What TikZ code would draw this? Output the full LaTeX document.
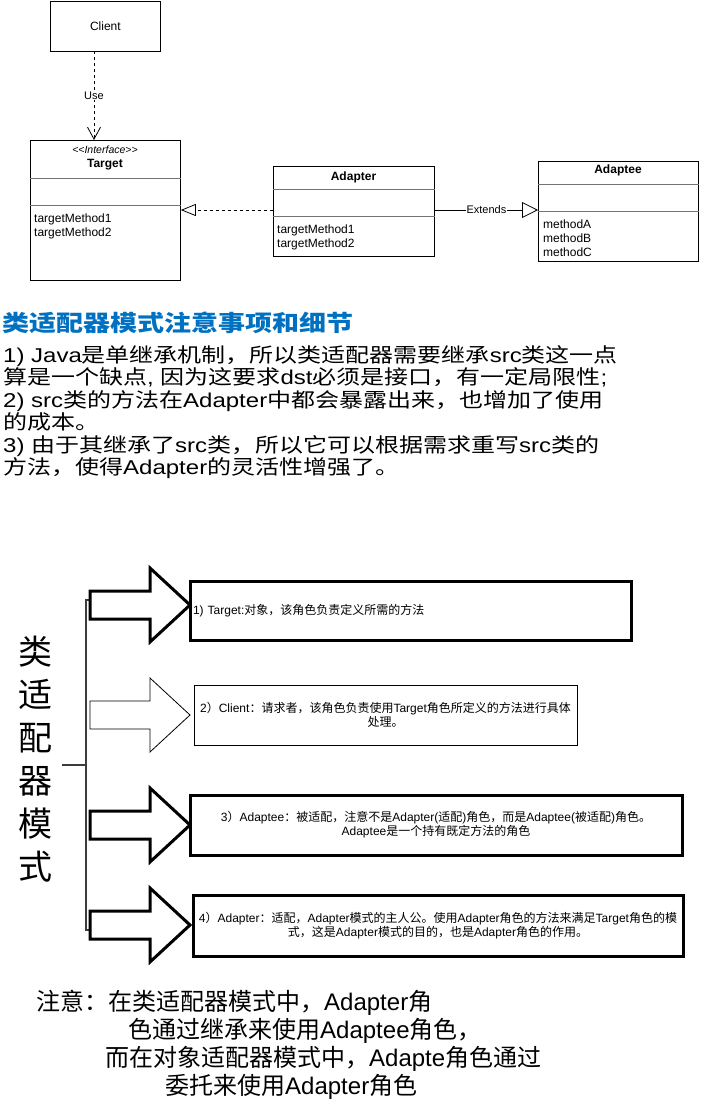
\documentclass[tikz,border=0pt]{standalone}
\usepackage{fontspec}
\setmainfont{Liberation Sans}
\newfontfamily\cjkfont{Noto Sans CJK SC}
\newfontfamily\cjkwide[FakeStretch=1.2]{Noto Sans CJK SC}
\newfontfamily\latinwide[FakeStretch=1.2]{Liberation Sans}
\usetikzlibrary{arrows.meta,positioning}

% han characters switch to the CJK family on their own
\XeTeXinterchartokenstate=1
\newXeTeXintercharclass\hanclass
\newcount\hancode
\newcommand\hanrange[2]{\hancode=#1\relax
  \loop\XeTeXcharclass\hancode=\hanclass\relax
  \ifnum\hancode<#2\relax\advance\hancode by 1\relax\repeat}
\hanrange{"3000}{"303F}
\hanrange{"4E00}{"9FFF}
\hanrange{"FF00}{"FFEF}
\newcommand\hanfont{\cjkfont}
\XeTeXinterchartoks 0 \hanclass = {\begingroup\hanfont}
\XeTeXinterchartoks 4095 \hanclass = {\begingroup\hanfont}
\XeTeXinterchartoks \hanclass 0 = {\endgroup}
\XeTeXinterchartoks \hanclass 4095 = {\endgroup}
\newcommand\widetext{\latinwide\def\hanfont{\cjkwide}}

\definecolor{headblue}{RGB}{0,112,192}
\definecolor{bracegray}{RGB}{60,60,60}

\tikzset{
  classbox/.style={draw, fill=white, line width=0.8pt, inner sep=0pt, anchor=north west},
  divider/.style={draw=black!55, line width=0.7pt},
  members/.style={anchor=north west, align=left, inner sep=0pt, font=\fontsize{12}{14}\selectfont},
  linklabel/.style={fill=white, inner sep=1pt, font=\fontsize{11}{13}\selectfont},
  usedep/.style={line width=0.8pt, dash pattern=on 3pt off 3pt, -{Straight Barb[length=12pt,width=13pt]}},
  realize/.style={line width=0.8pt, dash pattern=on 3pt off 3pt, -{Triangle[open,length=15pt,width=12pt]}},
  inherit/.style={line width=0.8pt, -{Triangle[open,length=16pt,width=16pt]}},
  rolebox/.style={draw, fill=white, inner sep=3pt, align=center, font=\fontsize{12}{14}\selectfont},
  fatarrow/.pic={\path[pic actions] (0,-14) -- (60,-14) -- (60,-37) -- (100,0) -- (60,37) -- (60,14) -- (0,14) -- cycle;},
  note/.style={anchor=west, inner sep=0pt, font=\fontsize{24}{28}\selectfont}
}

\begin{document}
\begin{tikzpicture}[x=1pt, y=-1pt]
  \useasboundingbox (0,0) rectangle (701,1111);

  % class diagram
  \node[classbox, minimum width=110pt, minimum height=50pt, font=\fontsize{12}{14}\selectfont] (client) at (50,0.5) {Client};

  \node[classbox, minimum width=150pt, minimum height=140pt] (target) at (30,140) {};
  \node[inner sep=0pt, font=\fontsize{10.5}{12}\selectfont\itshape] (tgtstereo) at (105,150) {<\kern0pt<Interface>\kern0pt>};
  \node[inner sep=0pt, font=\fontsize{12}{14}\selectfont\bfseries] (tgtname) at (105,165) {Target};
  \draw[divider] ([yshift=-38pt]target.north west) -- ([yshift=-38pt]target.north east);
  \draw[divider] ([yshift=-65pt]target.north west) -- ([yshift=-65pt]target.north east);
  \node[members] (tgtmembers) at (34,213.5) {targetMethod1\\targetMethod2};

  \node[classbox, minimum width=161pt, minimum height=90pt] (adapter) at (273,166) {};
  \node[inner sep=0pt, font=\fontsize{12}{14}\selectfont\bfseries] (adpname) at (353.5,177) {Adapter};
  \draw[divider] ([yshift=-23pt]adapter.north west) -- ([yshift=-23pt]adapter.north east);
  \draw[divider] ([yshift=-50pt]adapter.north west) -- ([yshift=-50pt]adapter.north east);
  \node[members] (adpmembers) at (277,224.5) {targetMethod1\\targetMethod2};

  \node[classbox, minimum width=160pt, minimum height=100pt] (adaptee) at (538,161) {};
  \node[inner sep=0pt, font=\fontsize{12}{14}\selectfont\bfseries] (adtname) at (618,170.5) {Adaptee};
  \draw[divider] ([yshift=-23pt]adaptee.north west) -- ([yshift=-23pt]adaptee.north east);
  \draw[divider] ([yshift=-50pt]adaptee.north west) -- ([yshift=-50pt]adaptee.north east);
  \node[members] (adtmembers) at (543,219.5) {methodA\\methodB\\methodC};

  \coordinate (usex) at (94,0);
  \coordinate (linky) at (0,210);
  \draw[usedep] (client.south -| usex) -- node[linklabel] {Use} (target.north -| usex);
  \draw[realize] (adapter.west |- linky) -- (target.east |- linky);
  \draw[inherit] (adapter.east |- linky) -- node[linklabel] {Extends} (adaptee.west |- linky);

  % notes on the class adapter
  \node[anchor=west, inner sep=0pt, text=headblue, font=\widetext\fontsize{22.5}{26}\selectfont\bfseries] (heading) at (2,323) {类适配器模式注意事项和细节};
  \node[anchor=north west, align=left, inner sep=0pt, font=\widetext\fontsize{20}{22.5}\selectfont] (details) at (3,345)
    {1) Java是单继承机制，所以类适配器需要继承src类这一点\\
     算是一个缺点, 因为这要求dst必须是接口，有一定局限性;\\
     2) src类的方法在Adapter中都会暴露出来，也增加了使用\\
     的成本。\\
     3) 由于其继承了src类，所以它可以根据需求重写src类的\\
     方法，使得Adapter的灵活性增强了。};

  % roles
  \node[inner sep=0pt, align=center, font=\fontsize{34}{43}\selectfont] (sidetitle) at (35,759) {类\\适\\配\\器\\模\\式};
  \draw[bracegray, line width=1.2pt] (90,600) -- (86,600) -- (86,930) -- (90,930);
  \draw[bracegray, line width=1.2pt] (62,765) -- (86,765);

  \node[rolebox, line width=3pt, minimum width=441pt, minimum height=59pt, text width=435pt, align=left] (role1) at (410.5,610.5) {1) Target:对象，该角色负责定义所需的方法};
  \node[rolebox, line width=0.8pt, minimum width=383pt, minimum height=60pt] (role2) at (385.5,715) {2）Client：请求者，该角色负责使用Target角色所定义的方法进行具体\\处理。};
  \node[rolebox, line width=3pt, minimum width=492pt, minimum height=60pt] (role3) at (436,825) {3）Adaptee：被适配，注意不是Adapter(适配)角色，而是Adaptee(被适配)角色。\\Adaptee是一个持有既定方法的角色};
  \node[rolebox, line width=3pt, minimum width=490pt, minimum height=61pt] (role4) at (438,925.5) {4）Adapter：适配，Adapter模式的主人公。使用Adapter角色的方法来满足Target角色的模\\式，这是Adapter模式的目的，也是Adapter角色的作用。};

  \pic[draw, fill=white, line width=3pt] at (90,605) {fatarrow};
  \pic[draw, fill=white, line width=0.8pt] at (90,715) {fatarrow};
  \pic[draw, fill=white, line width=3pt] at (90,825) {fatarrow};
  \pic[draw, fill=white, line width=3pt] at (90,925) {fatarrow};

  % closing remark
  \node[note] (note1) at (36,1003) {注意：在类适配器模式中，Adapter角};
  \node[note] (note2) at (128,1031) {色通过继承来使用Adaptee角色，};
  \node[note] (note3) at (105,1059) {而在对象适配器模式中，Adapte角色通过};
  \node[note] (note4) at (165,1087) {委托来使用Adapter角色};
\end{tikzpicture}
\end{document}
